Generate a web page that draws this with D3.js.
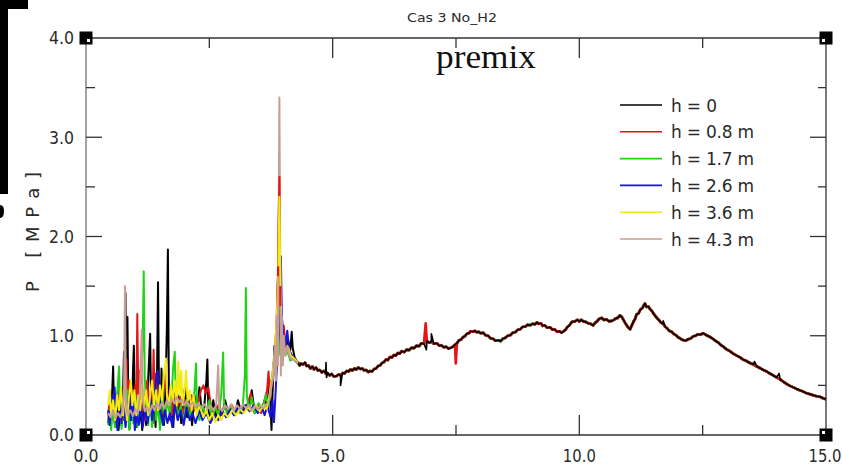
<!DOCTYPE html>
<html>
<head>
<meta charset="utf-8">
<script src="https://cdn.jsdelivr.net/npm/d3@7"></script>
<style>
  html, body { margin: 0; padding: 0; background: #fff; }
  svg { display: block; }
  text { font-family: "DejaVu Sans", "Liberation Sans", sans-serif; fill: #2a2a2a; }
</style>
</head>
<body>
<svg id="chart" width="842" height="466"></svg>
<script>
// ---- data: pressure P [MPa] versus time t, one trace per gauge height ----
const seriesNames = ["h = 0", "h = 0.8 m", "h = 1.7 m", "h = 2.6 m", "h = 3.6 m", "h = 4.3 m"];
const seriesColors = ["#000000", "#e4141a", "#1ed414", "#1414dc", "#f4ec0c", "#c69e92"];

const xTickValues = [0, 5, 10, 15];
const xTickLabels = ["0.0", "5.0", "10.0", "15.0"];
const xMinorTicks = [2.5, 7.5, 12.5];
const yTickValues = [0, 1, 2, 3, 4];
const yTickLabels = ["0.0", "1.0", "2.0", "3.0", "4.0"];
const yMinorTicks = [0.5, 1.5, 2.5, 3.5];

// early, gauge-specific phase [t, P]
const early_h0 = [[0.45,0.12],[0.48,0.30],[0.50,0.10],[0.53,0.42],[0.55,0.69],[0.57,0.20],[0.60,0.08],[0.63,0.35],[0.66,0.05],[0.69,0.25],[0.72,0.10],[0.75,0.40],[0.77,0.84],[0.79,0.30],[0.80,1.43],[0.82,0.35],[0.84,1.19],[0.86,0.20],[0.88,0.06],[0.91,0.45],[0.93,0.15],[0.95,0.60],[0.97,0.90],[0.99,0.25],[1.02,0.08],[1.05,0.50],[1.08,0.12],[1.11,0.30],[1.14,0.05],[1.18,0.40],[1.22,0.10],[1.26,0.55],[1.30,1.02],[1.32,0.30],[1.35,0.12],[1.38,0.45],[1.41,0.08],[1.44,0.62],[1.46,1.54],[1.48,0.40],[1.51,0.15],[1.53,0.67],[1.55,0.25],[1.58,0.10],[1.61,0.45],[1.64,1.09],[1.66,1.87],[1.68,0.45],[1.71,0.15],[1.74,0.35],[1.77,0.08],[1.81,0.50],[1.85,0.20],[1.89,0.40],[1.93,0.12],[1.97,0.30],[2.01,0.50],[2.05,0.18],[2.10,0.35],[2.15,0.10],[2.20,0.40],[2.25,0.22],[2.30,0.48],[2.35,0.20],[2.40,0.30],[2.44,0.55],[2.46,0.76],[2.48,0.25],[2.52,0.15],[2.58,0.35],[2.63,0.18],[2.70,0.30],[2.76,0.20],[2.82,0.35],[2.88,0.22],[2.95,0.28],[3.02,0.20],[3.08,0.35],[3.15,0.22],[3.22,0.30],[3.30,0.25],[3.36,0.45],[3.42,0.22],[3.50,0.30],[3.56,0.25],[3.62,0.35],[3.68,0.30],[3.72,0.55],[3.76,0.05],[3.78,0.40],[3.82,0.90],[3.85,0.60],[3.88,1.40],[3.90,1.73],[3.92,0.90],[3.95,1.20],[3.98,0.85],[4.02,1.00],[4.06,0.90],[4.10,0.95],[4.14,0.85],[4.17,1.04],[4.19,0.88],[4.23,0.78],[4.28,0.74]];
const early_h08 = [[0.45,0.20],[0.48,0.35],[0.51,0.15],[0.55,0.40],[0.58,0.12],[0.62,0.30],[0.65,0.45],[0.68,0.18],[0.72,0.35],[0.75,0.15],[0.78,0.50],[0.80,0.25],[0.82,0.76],[0.84,0.30],[0.87,0.55],[0.90,0.20],[0.94,0.45],[0.97,0.15],[1.00,0.50],[1.02,0.30],[1.04,1.22],[1.06,0.40],[1.09,0.65],[1.12,0.20],[1.16,0.45],[1.20,0.15],[1.24,0.55],[1.28,0.25],[1.32,0.48],[1.35,0.35],[1.37,0.86],[1.39,0.40],[1.42,0.62],[1.45,0.25],[1.49,0.50],[1.53,0.20],[1.57,0.45],[1.60,0.65],[1.63,0.50],[1.66,0.30],[1.70,0.45],[1.74,0.20],[1.79,0.40],[1.84,0.25],[1.90,0.38],[1.96,0.20],[2.02,0.35],[2.08,0.22],[2.14,0.40],[2.20,0.25],[2.27,0.32],[2.33,0.45],[2.38,0.50],[2.43,0.42],[2.48,0.48],[2.53,0.30],[2.58,0.22],[2.65,0.30],[2.72,0.20],[2.80,0.28],[2.88,0.22],[2.96,0.30],[3.04,0.22],[3.12,0.28],[3.20,0.24],[3.28,0.32],[3.34,0.42],[3.40,0.25],[3.48,0.30],[3.55,0.22],[3.62,0.35],[3.67,0.45],[3.70,0.64],[3.73,0.40],[3.78,0.55],[3.82,0.80],[3.86,1.10],[3.89,1.60],[3.92,2.60],[3.94,1.30],[3.97,0.95],[4.01,1.10],[4.05,0.85],[4.10,0.90],[4.16,0.80],[4.22,0.76],[4.28,0.73]];
const early_h17 = [[0.45,0.10],[0.48,0.25],[0.51,0.05],[0.55,0.30],[0.59,0.08],[0.63,0.40],[0.67,0.69],[0.69,0.30],[0.72,0.06],[0.76,0.35],[0.80,0.10],[0.84,0.45],[0.88,0.05],[0.92,0.30],[0.96,0.12],[1.00,0.40],[1.04,0.08],[1.08,0.35],[1.12,0.55],[1.15,0.95],[1.17,1.65],[1.19,0.60],[1.22,0.30],[1.26,0.10],[1.30,0.35],[1.34,0.08],[1.38,0.40],[1.42,0.15],[1.46,0.30],[1.50,0.05],[1.55,0.40],[1.60,0.15],[1.65,0.35],[1.70,0.20],[1.74,0.45],[1.77,0.70],[1.80,0.84],[1.82,0.35],[1.86,0.15],[1.92,0.30],[1.98,0.12],[2.04,0.35],[2.10,0.18],[2.16,0.30],[2.20,0.45],[2.23,0.72],[2.25,0.25],[2.30,0.15],[2.36,0.30],[2.42,0.20],[2.50,0.35],[2.56,0.18],[2.62,0.28],[2.68,0.20],[2.74,0.40],[2.78,0.83],[2.80,0.30],[2.86,0.22],[2.94,0.30],[3.00,0.20],[3.06,0.28],[3.12,0.22],[3.18,0.30],[3.22,0.60],[3.24,1.48],[3.26,0.40],[3.30,0.25],[3.36,0.38],[3.42,0.22],[3.50,0.32],[3.58,0.25],[3.64,0.40],[3.70,0.30],[3.76,0.55],[3.80,0.70],[3.85,0.90],[3.90,1.00],[3.94,0.80],[3.97,1.19],[4.00,0.90],[4.04,0.80],[4.08,0.85],[4.14,0.75],[4.20,0.77],[4.28,0.73]];
const early_h26 = [[0.45,0.25],[0.48,0.10],[0.52,0.40],[0.55,0.30],[0.58,0.48],[0.61,0.15],[0.64,0.05],[0.68,0.30],[0.72,0.12],[0.76,0.40],[0.80,0.08],[0.84,0.25],[0.88,0.42],[0.91,0.15],[0.95,0.35],[0.99,0.05],[1.03,0.20],[1.07,0.10],[1.11,0.35],[1.15,0.08],[1.20,0.25],[1.25,0.12],[1.30,0.40],[1.34,0.15],[1.38,0.30],[1.42,0.55],[1.45,0.65],[1.48,0.45],[1.52,0.20],[1.56,0.10],[1.60,0.25],[1.65,0.12],[1.70,0.22],[1.75,0.08],[1.80,0.30],[1.86,0.15],[1.92,0.25],[1.98,0.10],[2.04,0.28],[2.10,0.15],[2.16,0.22],[2.22,0.12],[2.30,0.25],[2.36,0.15],[2.44,0.22],[2.52,0.12],[2.60,0.20],[2.68,0.15],[2.76,0.25],[2.84,0.18],[2.92,0.26],[3.00,0.20],[3.08,0.28],[3.16,0.22],[3.24,0.30],[3.32,0.24],[3.40,0.30],[3.48,0.22],[3.56,0.28],[3.62,0.20],[3.68,0.30],[3.74,0.18],[3.78,0.35],[3.81,0.13],[3.84,0.40],[3.87,0.70],[3.90,0.95],[3.93,1.40],[3.95,1.80],[3.97,1.20],[4.00,1.00],[4.04,0.90],[4.08,1.05],[4.12,0.85],[4.18,0.80],[4.24,0.75],[4.28,0.73]];
const early_h36 = [[0.45,0.30],[0.48,0.45],[0.51,0.20],[0.55,0.35],[0.59,0.15],[0.63,0.40],[0.67,0.25],[0.71,0.48],[0.75,0.20],[0.79,0.42],[0.83,0.15],[0.87,0.38],[0.91,0.55],[0.94,0.30],[0.98,0.45],[1.02,0.20],[1.06,0.40],[1.10,0.25],[1.14,0.50],[1.18,0.30],[1.22,0.45],[1.26,0.20],[1.30,0.40],[1.34,0.55],[1.38,0.30],[1.42,0.45],[1.46,0.25],[1.50,0.50],[1.54,0.35],[1.58,0.60],[1.62,0.77],[1.64,0.40],[1.68,0.30],[1.72,0.50],[1.76,0.35],[1.80,0.55],[1.84,0.30],[1.87,0.74],[1.90,0.40],[1.93,0.65],[1.96,0.30],[2.00,0.45],[2.03,0.65],[2.06,0.35],[2.10,0.45],[2.14,0.25],[2.18,0.40],[2.24,0.20],[2.30,0.30],[2.38,0.18],[2.44,0.25],[2.50,0.15],[2.56,0.22],[2.62,0.13],[2.68,0.20],[2.74,0.15],[2.80,0.22],[2.88,0.18],[2.96,0.25],[3.04,0.20],[3.12,0.26],[3.20,0.22],[3.28,0.28],[3.36,0.24],[3.44,0.30],[3.52,0.24],[3.60,0.30],[3.66,0.26],[3.72,0.40],[3.78,0.60],[3.83,0.85],[3.87,1.20],[3.90,1.70],[3.92,2.40],[3.94,1.50],[3.97,1.00],[4.00,0.85],[4.05,0.83],[4.10,0.88],[4.15,0.80],[4.22,0.77],[4.28,0.74]];
const early_h43 = [[0.45,0.22],[0.50,0.18],[0.55,0.25],[0.60,0.17],[0.65,0.22],[0.70,0.18],[0.74,0.24],[0.77,0.40],[0.79,1.50],[0.81,0.30],[0.85,0.20],[0.90,0.25],[0.95,0.19],[1.00,0.26],[1.05,0.22],[1.09,0.40],[1.11,0.75],[1.13,1.06],[1.15,0.35],[1.19,0.24],[1.24,0.28],[1.29,0.22],[1.34,0.30],[1.39,0.25],[1.44,0.32],[1.49,0.26],[1.54,0.33],[1.59,0.27],[1.64,0.35],[1.69,0.30],[1.74,0.36],[1.79,0.32],[1.84,0.38],[1.89,0.33],[1.94,0.36],[1.99,0.30],[2.04,0.34],[2.10,0.29],[2.16,0.33],[2.22,0.28],[2.28,0.32],[2.34,0.27],[2.40,0.31],[2.46,0.26],[2.52,0.30],[2.58,0.25],[2.64,0.30],[2.66,0.50],[2.68,0.70],[2.70,0.28],[2.76,0.24],[2.82,0.30],[2.88,0.26],[2.94,0.31],[3.00,0.25],[3.06,0.30],[3.12,0.26],[3.18,0.31],[3.24,0.27],[3.30,0.30],[3.36,0.25],[3.42,0.29],[3.48,0.26],[3.54,0.30],[3.60,0.27],[3.66,0.31],[3.72,0.35],[3.76,0.50],[3.80,0.60],[3.83,0.90],[3.85,0.55],[3.87,1.20],[3.89,0.70],[3.90,1.60],[3.92,3.40],[3.94,1.40],[3.95,0.60],[3.97,1.20],[3.99,0.70],[4.01,1.00],[4.04,0.80],[4.08,0.90],[4.13,0.78],[4.20,0.76],[4.28,0.73]];

// common decay phase, where all gauges read almost the same pressure
const tailCommon = [[4.30,0.73],[4.33,0.70],[4.35,0.72],[4.40,0.71],[4.44,0.73],[4.47,0.695],[4.51,0.70],[4.55,0.67],[4.59,0.69],[4.62,0.66],[4.66,0.68],[4.70,0.65],[4.74,0.655],[4.78,0.63],[4.82,0.645],[4.86,0.62],[4.90,0.625],[4.94,0.60],[4.98,0.615],[5.02,0.59],[5.08,0.595],[5.12,0.61],[5.16,0.60],[5.20,0.625],[5.24,0.62],[5.28,0.645],[5.32,0.64],[5.36,0.66],[5.40,0.65],[5.44,0.67],[5.48,0.66],[5.52,0.68],[5.56,0.665],[5.60,0.67],[5.64,0.65],[5.68,0.655],[5.72,0.635],[5.76,0.645],[5.80,0.64],[5.84,0.665],[5.88,0.67],[5.92,0.695],[5.96,0.70],[6.00,0.725],[6.04,0.735],[6.08,0.76],[6.12,0.755],[6.16,0.785],[6.20,0.78],[6.24,0.805],[6.28,0.80],[6.32,0.825],[6.36,0.82],[6.40,0.845],[6.45,0.835],[6.50,0.86],[6.55,0.855],[6.60,0.88],[6.65,0.875],[6.70,0.90],[6.75,0.895],[6.80,0.925],[6.85,0.92],[6.91,0.945],[6.96,0.93],[7.00,0.94],[7.05,0.92],[7.11,0.925],[7.16,0.90],[7.20,0.905],[7.25,0.885],[7.30,0.89],[7.35,0.87],[7.40,0.88],[7.44,0.89],[7.48,0.91],[7.52,0.925],[7.56,0.955],[7.60,0.96],[7.64,0.985],[7.68,0.995],[7.72,1.02],[7.76,1.025],[7.80,1.045],[7.84,1.04],[7.88,1.05],[7.92,1.035],[7.96,1.04],[8.00,1.025],[8.05,1.03],[8.10,1.005],[8.15,1.0],[8.20,0.975],[8.25,0.97],[8.30,0.95],[8.36,0.955],[8.40,0.945],[8.45,0.97],[8.50,0.98],[8.55,1.0],[8.60,1.005],[8.65,1.03],[8.70,1.035],[8.75,1.06],[8.80,1.065],[8.85,1.09],[8.90,1.09],[8.95,1.11],[9.00,1.105],[9.05,1.12],[9.10,1.115],[9.14,1.135],[9.18,1.12],[9.22,1.125],[9.26,1.10],[9.30,1.105],[9.35,1.08],[9.41,1.085],[9.46,1.06],[9.50,1.065],[9.55,1.04],[9.60,1.045],[9.64,1.03],[9.68,1.045],[9.72,1.06],[9.76,1.09],[9.80,1.105],[9.85,1.14],[9.91,1.145],[9.96,1.16],[10.00,1.145],[10.04,1.16],[10.08,1.145],[10.13,1.14],[10.18,1.125],[10.23,1.12],[10.28,1.105],[10.32,1.13],[10.36,1.145],[10.40,1.17],[10.45,1.18],[10.50,1.16],[10.55,1.165],[10.60,1.145],[10.66,1.15],[10.70,1.16],[10.74,1.175],[10.78,1.18],[10.82,1.205],[10.86,1.19],[10.90,1.155],[10.94,1.12],[10.98,1.09],[11.03,1.065],[11.06,1.10],[11.10,1.145],[11.13,1.17],[11.16,1.215],[11.20,1.225],[11.24,1.265],[11.28,1.28],[11.31,1.31],[11.33,1.325],[11.36,1.29],[11.40,1.295],[11.43,1.27],[11.47,1.25],[11.50,1.225],[11.54,1.20],[11.57,1.18],[11.61,1.16],[11.65,1.135],[11.70,1.12],[11.74,1.09],[11.78,1.075],[11.82,1.05],[11.87,1.04],[11.91,1.02],[11.96,1.005],[12.00,0.985],[12.04,0.975],[12.08,0.96],[12.12,0.955],[12.16,0.95],[12.20,0.965],[12.25,0.97],[12.31,0.995],[12.36,1.0],[12.40,1.015],[12.45,1.01],[12.51,1.025],[12.56,1.01],[12.60,1.0],[12.66,0.985],[12.72,0.965],[12.77,0.945],[12.82,0.93],[12.87,0.905],[12.92,0.89],[12.98,0.865],[13.05,0.845],[13.12,0.82],[13.19,0.80],[13.25,0.785],[13.32,0.76],[13.39,0.745],[13.46,0.725],[13.53,0.71],[13.60,0.69],[13.66,0.675],[13.73,0.655],[13.80,0.64],[13.86,0.62],[13.93,0.60],[14.00,0.58],[14.07,0.56],[14.14,0.535],[14.20,0.515],[14.27,0.495],[14.34,0.48],[14.40,0.465],[14.47,0.45],[14.54,0.437],[14.61,0.42],[14.68,0.41],[14.74,0.40],[14.81,0.39],[14.88,0.385],[14.94,0.37],[15.00,0.36]];

// short gauge-specific excursions during the decay phase
const tailSpikes_h0 = [[4.865,0.73],[4.875,0.58],[5.16,0.50],[6.90,0.86],[7.00,1.02],[11.70,1.15],[13.55,0.74],[14.05,0.62]];
const tailSpikes_h08 = [[6.885,1.125],[7.495,0.72]];
const tailSpikes_h17 = [];
const tailSpikes_h26 = [];
const tailSpikes_h36 = [];
const tailSpikes_h43 = [];

const earlyData = [early_h0, early_h08, early_h17, early_h26, early_h36, early_h43];
const tailSpikes = [tailSpikes_h0, tailSpikes_h08, tailSpikes_h17, tailSpikes_h26, tailSpikes_h36, tailSpikes_h43];

// ---- layout ----
const svg = d3.select("#chart");
const plot = { left: 86, right: 826, top: 38, bottom: 435 };

const x = d3.scaleLinear().domain([0, 15]).range([plot.left, plot.right]);
const y = d3.scaleLinear().domain([0, 4]).range([plot.bottom, plot.top]);

svg.append("rect").attr("width", 842).attr("height", 466).attr("fill", "#fff");

// dark bracket at the left margin
svg.append("rect").attr("x", 0).attr("y", 0).attr("width", 8).attr("height", 194).attr("fill", "#000");
svg.append("rect").attr("x", 0).attr("y", 0).attr("width", 28).attr("height", 9).attr("fill", "#000");
svg.append("path").attr("d", "M0,205 Q4,205 4,211 Q4,218 0,218 Z").attr("fill", "#000");

// ---- traces ----
const line = d3.line().x(d => x(d[0])).y(d => y(d[1]));
const fullSeries = earlyData.map((e, i) => {
  const tail = tailCommon.concat(tailSpikes[i]).sort((a, b) => a[0] - b[0]);
  return e.concat(tail);
});
const splitT = 4.3;
const parts = fullSeries.map(pts => {
  const idx = pts.findIndex(d => d[0] >= splitT);
  return { early: pts.slice(0, idx + 1), tail: pts.slice(idx - 1) };
});

const gTraces = svg.append("g").attr("fill", "none").attr("stroke-linejoin", "round");

// decay phase: deepest gauge first, ground gauge drawn last and thinner
for (let i = seriesNames.length - 1; i >= 0; i--) {
  gTraces.append("path")
    .attr("d", line(parts[i].tail))
    .attr("stroke", seriesColors[i])
    .attr("stroke-width", i === 0 ? 1.6 : 2.6);
}
// initial phase: ground gauge first, highest gauge on top
seriesNames.forEach((_, i) => {
  gTraces.append("path")
    .attr("d", line(parts[i].early))
    .attr("stroke", seriesColors[i])
    .attr("stroke-width", 2.0);
});
// main pressure peak: 0.8 m then 3.6 m gauge over the 4.3 m trace
[1, 4].forEach(i => {
  const peak = parts[i].early.filter(d => d[0] >= 3.89 && d[0] <= 3.94);
  gTraces.append("path")
    .attr("d", line(peak))
    .attr("stroke", seriesColors[i])
    .attr("stroke-width", 2.0);
});

// ---- frame, ticks, labels ----
const axisColor = "#333";
const gAx = svg.append("g").attr("stroke", axisColor).attr("stroke-width", 1.3);
gAx.append("line").attr("x1", plot.left).attr("x2", plot.right).attr("y1", plot.bottom).attr("y2", plot.bottom);
gAx.append("line").attr("x1", plot.left).attr("x2", plot.right).attr("y1", plot.top).attr("y2", plot.top);
gAx.append("line").attr("x1", plot.right).attr("x2", plot.right).attr("y1", plot.top).attr("y2", plot.bottom);
gAx.append("line").attr("x1", plot.left).attr("x2", plot.left).attr("y1", plot.top).attr("y2", plot.bottom)
  .attr("stroke", "#666").attr("stroke-width", 1.2);

const innerX = xTickValues.filter(v => v > 0 && v < 15);
const innerY = yTickValues.filter(v => v > 0 && v < 4);
innerX.forEach(v => {
  gAx.append("line").attr("x1", x(v)).attr("x2", x(v)).attr("y1", plot.bottom).attr("y2", plot.bottom - 20);
  gAx.append("line").attr("x1", x(v)).attr("x2", x(v)).attr("y1", plot.top).attr("y2", plot.top + 20);
});
xMinorTicks.forEach(v => {
  gAx.append("line").attr("x1", x(v)).attr("x2", x(v)).attr("y1", plot.bottom).attr("y2", plot.bottom - 10);
  gAx.append("line").attr("x1", x(v)).attr("x2", x(v)).attr("y1", plot.top).attr("y2", plot.top + 10);
});
innerY.forEach(v => {
  gAx.append("line").attr("x1", plot.left).attr("x2", plot.left + 16).attr("y1", y(v)).attr("y2", y(v));
  gAx.append("line").attr("x1", plot.right).attr("x2", plot.right - 16).attr("y1", y(v)).attr("y2", y(v));
});
yMinorTicks.forEach(v => {
  gAx.append("line").attr("x1", plot.left).attr("x2", plot.left + 9).attr("y1", y(v)).attr("y2", y(v));
  gAx.append("line").attr("x1", plot.right).attr("x2", plot.right - 8).attr("y1", y(v)).attr("y2", y(v));
});

// corner markers
[[plot.left, plot.top, 1, 1], [plot.left, plot.bottom, 1, -1], [plot.right, plot.top, -1, 1], [plot.right, plot.bottom, -1, -1]]
  .forEach(([cx, cy, sx, sy]) => {
    svg.append("rect").attr("x", cx - 6.5).attr("y", cy - 6.5).attr("width", 13).attr("height", 13).attr("fill", "#000");
    svg.append("rect")
      .attr("x", sx > 0 ? cx + 1 : cx - 4).attr("y", sy > 0 ? cy + 1 : cy - 4)
      .attr("width", 3).attr("height", 3).attr("fill", "#fff");
  });

// tick labels
const tickFont = 18;
yTickValues.forEach((v, i) => {
  svg.append("text")
    .attr("x", 74).attr("y", y(v)).attr("dy", "0.36em")
    .attr("text-anchor", "end")
    .attr("font-size", tickFont)
    .attr("textLength", 25).attr("lengthAdjust", "spacingAndGlyphs")
    .text(yTickLabels[i]);
});
xTickValues.forEach((v, i) => {
  const w = xTickLabels[i].length > 3 ? 33 : 25;
  svg.append("text")
    .attr("x", v === 15 ? 825 : x(v)).attr("y", 462)
    .attr("text-anchor", "middle")
    .attr("font-size", tickFont)
    .attr("textLength", w).attr("lengthAdjust", "spacingAndGlyphs")
    .text(xTickLabels[i]);
});

// axis title
svg.append("text")
  .attr("transform", "translate(39,232) rotate(-90)")
  .attr("text-anchor", "middle")
  .attr("font-size", 18)
  .attr("textLength", 120).attr("lengthAdjust", "spacing")
  .text("P [MPa]");

// titles
svg.append("text")
  .attr("x", 452).attr("y", 22).attr("text-anchor", "middle")
  .attr("font-size", 13)
  .attr("textLength", 90).attr("lengthAdjust", "spacingAndGlyphs")
  .text("Cas 3 No_H2");
svg.append("text")
  .attr("x", 486).attr("y", 68).attr("text-anchor", "middle")
  .style("font-family", "'Liberation Serif', 'DejaVu Serif', serif")
  .style("fill", "#111")
  .attr("font-size", 33)
  .attr("textLength", 100).attr("lengthAdjust", "spacingAndGlyphs")
  .text("premix");

// legend
const legendY0 = 105, legendStep = 26.8;
seriesNames.forEach((name, i) => {
  const yy = legendY0 + i * legendStep;
  svg.append("line")
    .attr("x1", 620).attr("x2", 662).attr("y1", yy).attr("y2", yy)
    .attr("stroke", seriesColors[i]).attr("stroke-width", 1.6);
  svg.append("text")
    .attr("x", 671).attr("y", yy + 6.5)
    .attr("font-size", 17)
    .attr("textLength", i === 0 ? 46 : 83).attr("lengthAdjust", "spacing")
    .text(name);
});
</script>
</body>
</html>
